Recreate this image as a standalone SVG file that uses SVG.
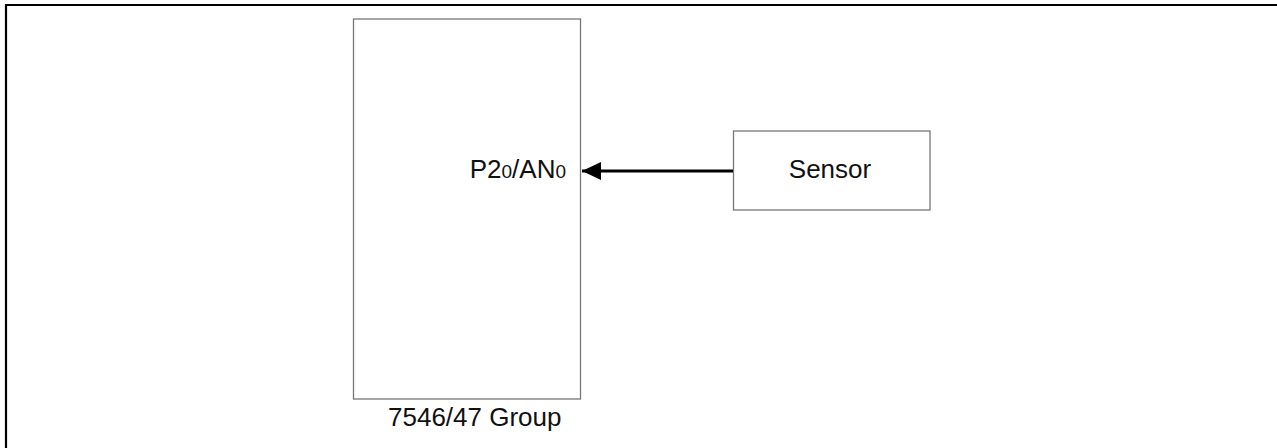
<svg xmlns="http://www.w3.org/2000/svg" width="1277" height="448" viewBox="0 0 1277 448">
<style>
.box{fill:#fff;stroke:#777;stroke-width:1.3}
.t{font-family:"Liberation Sans",Arial,sans-serif;font-size:26px;fill:#111}
.frame{fill:none;stroke:#000;stroke-width:2.2}
</style>
<defs>
<marker id="ah" markerUnits="userSpaceOnUse" markerWidth="20" markerHeight="20" refX="19" refY="9" orient="auto" viewBox="0 0 20 18">
<path d="M19,9 L0,0 L0,18 Z" fill="#000"/>
</marker>
</defs>
<rect width="1277" height="448" fill="#fff"/>
<path class="frame" d="M6,448 V5 H1277"/>
<g id="mcu">
<rect class="box" x="353.5" y="19" width="227" height="380"/>
<text class="t" x="566" y="178" text-anchor="end">P2<tspan font-size="19">0</tspan>/AN<tspan font-size="19">0</tspan></text>
<text class="t" x="388" y="426">7546/47 Group</text>
</g>
<g id="sensor">
<rect class="box" x="733.5" y="131" width="196.5" height="79"/>
<text class="t" x="830" y="178" text-anchor="middle">Sensor</text>
</g>
<g id="connectors">
<line x1="733" y1="171" x2="582" y2="171" stroke="#000" stroke-width="3" marker-end="url(#ah)"/>
</g>
</svg>
